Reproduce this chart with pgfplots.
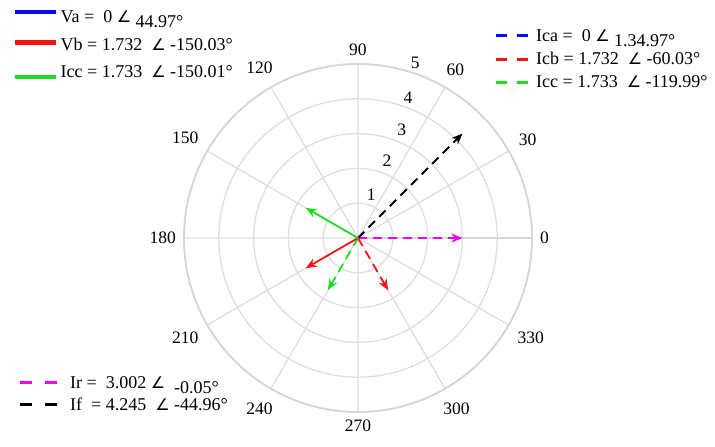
\documentclass[border=0pt]{standalone}
\usepackage{fontspec}
\setmainfont{Liberation Serif}
\newfontfamily\symfont{DejaVu Sans}
\usepackage{pgfplots}
\pgfplotsset{compat=1.18}
\usepgfplotslibrary{polar}
\usetikzlibrary{arrows.meta}
\definecolor{myred}{RGB}{240,20,20}
\definecolor{mygreen}{RGB}{30,220,30}
\definecolor{myblue}{RGB}{10,10,240}
\definecolor{mymag}{RGB}{240,0,240}
\newcommand\ang{{\symfont\fontsize{16}{18}\selectfont ∠}}
\newcommand\lf{\fontsize{18}{21}\selectfont}
\newcommand\tf{\fontsize{17.5}{21}\selectfont}
\newcommand\low[1]{\raisebox{-5pt}{#1}}
\begin{document}
\begin{tikzpicture}
\path[use as bounding box] (-358pt,-209pt) rectangle (357pt,238pt);
\begin{polaraxis}[
  at={(0pt,0pt)}, anchor=center,
  scale only axis, width=348pt, height=348pt,
  xmin=0, xmax=360, ymin=0, ymax=5,
  xtick={0,30,...,330},
  xticklabels={0,30,60,90,120,150,180,210,240,270,300,330},
  ytick={1,2,3,4,5}, yticklabels={},
  grid=major,
  major grid style={draw=black!13, line width=1.3pt},
  axis line style={draw=black!16, line width=1.8pt},
  major tick style={draw=none},
  xticklabel style={font=\tf, inner sep=8pt},
  /pgf/number format/assume math mode=true,
  clip=false,
]
\addplot[mymag, line width=1.8pt, dash pattern=on 9pt off 6pt, -{Stealth[length=11pt,width=9pt]}] coordinates {(0,0) (0,3.002)};
\addplot[black, line width=1.8pt, dash pattern=on 9pt off 6pt, -{Stealth[length=11pt,width=9pt]}] coordinates {(0,0) (45,4.245)};
\addplot[myred, line width=1.8pt, dash pattern=on 9pt off 6pt, -{Stealth[length=11pt,width=9pt]}] coordinates {(0,0) (300,1.732)};
\addplot[mygreen, line width=1.8pt, dash pattern=on 9pt off 6pt, -{Stealth[length=11pt,width=9pt]}] coordinates {(0,0) (240,1.733)};
\addplot[myred, line width=1.8pt, -{Stealth[length=11pt,width=9pt]}] coordinates {(0,0) (210,1.732)};
\addplot[mygreen, line width=1.8pt, -{Stealth[length=11pt,width=9pt]}] coordinates {(0,0) (150,1.733)};
\node[font=\tf] at (axis cs:73,1.3) {1};
\node[font=\tf] at (axis cs:69.5,2.38) {2};
\node[font=\tf] at (axis cs:68,3.35) {3};
\node[font=\tf] at (axis cs:70.3,4.27) {4};
\node[font=\tf] at (axis cs:71.9,5.3) {5};
\end{polaraxis}
% top-left legend
\begin{axis}[hide axis, scale only axis, width=715pt, height=447pt,
  at={(-358pt,-209pt)}, anchor=south west,
  xmin=0,xmax=1,ymin=0,ymax=1,
  legend style={at={(0.0182,0.9799)}, anchor=north west, draw=none, fill=none,
    inner sep=0pt, font=\lf, row sep=12pt, column sep=1pt, nodes={inner sep=1pt}},
  legend cell align=left,
]
\addlegendimage{legend image code/.code={\draw[myblue, line width=4.5pt] (0pt,5pt) -- (41pt,5pt);}}
\addlegendentry{Va =\ \ 0 \ang\ \low{44.97°}}
\addlegendimage{legend image code/.code={\draw[myred, line width=4.5pt] (0pt,2pt) -- (41pt,2pt);}}
\addlegendentry{Vb = 1.732\ \ \ang\ -150.03°}
\addlegendimage{legend image code/.code={\draw[mygreen, line width=4.5pt] (0pt,-4.5pt) -- (41pt,-4.5pt);}}
\addlegendentry{Icc = 1.733\ \ \ang\ -150.01°}
\end{axis}
% top-right legend
\begin{axis}[hide axis, scale only axis, width=715pt, height=447pt,
  at={(-358pt,-209pt)}, anchor=south west,
  xmin=0,xmax=1,ymin=0,ymax=1,
  legend style={at={(0.6909,0.9374)}, anchor=north west, draw=none, fill=none,
    inner sep=0pt, font=\lf, row sep=7.5pt, column sep=6pt, nodes={inner sep=1pt}},
  legend cell align=left,
  legend image code/.code={\draw[#1, dash pattern=on 11pt off 10pt] (0pt,0pt) -- (32pt,0pt);},
]
\addlegendimage{myblue, line width=3pt}
\addlegendentry{Ica =\ \ 0 \ang\ \low{1.34.97°}}
\addlegendimage{myred, line width=3pt}
\addlegendentry{Icb = 1.732\ \ \ang\ -60.03°}
\addlegendimage{mygreen, line width=3pt}
\addlegendentry{Icc = 1.733\ \ \ang\ -119.99°}
\end{axis}
% bottom-left legend
\begin{axis}[hide axis, scale only axis, width=715pt, height=447pt,
  at={(-358pt,-209pt)}, anchor=south west,
  xmin=0,xmax=1,ymin=0,ymax=1,
  legend style={at={(0.0252,0.161)}, anchor=north west, draw=none, fill=none,
    inner sep=0pt, font=\lf, row sep=6pt, column sep=11pt, nodes={inner sep=1pt}},
  legend cell align=left,
  legend image code/.code={\draw[#1, dash pattern=on 12pt off 13pt] (0pt,0pt) -- (37pt,0pt);},
]
\addlegendimage{mymag, line width=3pt}
\addlegendentry{Ir =\ \ 3.002 \ang\ \ \low{-0.05°}}
\addlegendimage{black, line width=3pt}
\addlegendentry{If\ \ = 4.245\ \ \ang\ -44.96°}
\end{axis}
\end{tikzpicture}
\end{document}
